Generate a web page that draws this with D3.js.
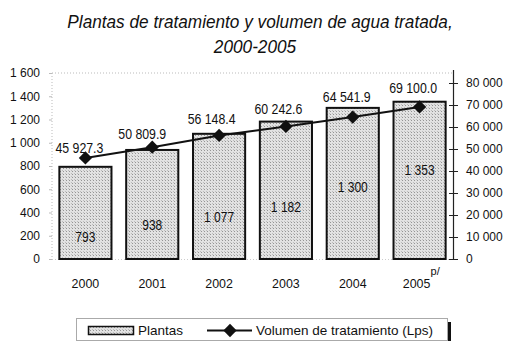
<!DOCTYPE html>
<html>
<head>
<meta charset="utf-8">
<script src="https://cdn.jsdelivr.net/npm/d3@7"></script>
<style>
  html, body { margin: 0; padding: 0; background: #fff; }
  svg { display: block; font-family: "Liberation Sans", Arial, sans-serif; }
</style>
</head>
<body>
<svg id="chart" width="506" height="341"></svg>
<script>
// Treatment plants (bars, left axis) and treated volume in Lps (line, right axis)
const years = ["2000", "2001", "2002", "2003", "2004", "2005"];
const plantas = [793, 938, 1077, 1182, 1300, 1353];
const volumen = [45927.3, 50809.9, 56148.4, 60242.6, 64541.9, 69100.0];
const leftTicks = [0, 200, 400, 600, 800, 1000, 1200, 1400, 1600];
const rightTicks = [0, 10000, 20000, 30000, 40000, 50000, 60000, 70000, 80000];
// Where each bar's count label sits, in left-axis units
const barLabelAt = [189, 292, 361, 447, 619, 766];
// Hand-placed nudges (px) of the volume labels from their markers
const volLabelDx = [-6, -10, -7.5, -7.5, -6, -6.5];
const volLabelDy = [-5, -8, -11, -12.5, -15, -14];

const svg = d3.select("#chart");
const plot = { left: 52, right: 453, top: 73, bottom: 259 };

const fmtInt = n => d3.format(",")(n).replace(/,/g, " ");
const fmtDec = n => d3.format(",.1f")(n).replace(/,/g, " ");

const x = d3.scaleBand().domain(years).range([plot.left, plot.right]).paddingInner(0.22).paddingOuter(0.11);
const yL = d3.scaleLinear().domain([0, 1600]).range([plot.bottom, plot.top]);
const yR = d3.scaleLinear().domain([0, 80000]).range([plot.bottom, 83]);
const cx = (d, i) => x(years[i]) + x.bandwidth() / 2;

// Stippled bar fill
const defs = svg.append("defs");
const pat = defs.append("pattern").attr("id", "stipple")
  .attr("patternUnits", "userSpaceOnUse").attr("width", 3).attr("height", 3);
pat.append("rect").attr("width", 3).attr("height", 3).attr("fill", "#e2e2e2");
pat.append("rect").attr("x", 0).attr("y", 0).attr("width", 1).attr("height", 1).attr("fill", "#959595");
pat.append("rect").attr("x", 2).attr("y", 2).attr("width", 1).attr("height", 1).attr("fill", "#bdbdbd");

// Title (slightly condensed)
const titleLines = [
  { text: "Plantas de tratamiento y volumen de agua tratada,", x: 260, y: 28 },
  { text: "2000-2005", x: 255, y: 53 }
];
svg.append("g").selectAll("text").data(titleLines).join("text")
  .attr("transform", d => `translate(${d.x},${d.y}) scale(0.93,1)`)
  .attr("text-anchor", "middle").attr("font-style", "italic")
  .attr("font-size", 18.5).attr("fill", "#111")
  .text(d => d.text);

// Faint dotted plot frame (top, left, bottom)
const frame = svg.append("g").attr("stroke", "#bbb").attr("stroke-width", 1).attr("stroke-dasharray", "1,2");
frame.append("line").attr("x1", plot.left).attr("x2", plot.right).attr("y1", plot.top).attr("y2", plot.top);
frame.append("line").attr("x1", plot.left).attr("x2", plot.left).attr("y1", plot.top).attr("y2", plot.bottom);
frame.append("line").attr("x1", plot.left).attr("x2", plot.right).attr("y1", plot.bottom + 0.5).attr("y2", plot.bottom + 0.5)
  .attr("stroke", "#ccc");

// Left axis
const gL = svg.append("g").attr("transform", `translate(${plot.left},0)`)
  .call(d3.axisLeft(yL).tickValues(leftTicks).tickFormat(fmtInt).tickSize(3).tickPadding(9));
gL.select(".domain").remove();
gL.selectAll(".tick line").attr("stroke", "#bbb");
gL.selectAll(".tick text").attr("font-size", 12).attr("fill", "#111")
  .attr("font-family", "Liberation Sans, Arial, sans-serif");

// Right axis
const gR = svg.append("g").attr("transform", `translate(${plot.right},0)`)
  .call(d3.axisRight(yR).tickValues(rightTicks).tickFormat(fmtInt).tickSizeOuter(0).tickSize(5).tickPadding(8));
gR.select(".domain").attr("stroke", "#222").attr("stroke-width", 1.2)
  .attr("d", `M0.5,${plot.top - 3}V${plot.bottom}`);
gR.selectAll(".tick line").attr("x1", -4).attr("x2", 5).attr("stroke", "#222");
gR.selectAll(".tick text").attr("font-size", 12).attr("fill", "#111")
  .attr("font-family", "Liberation Sans, Arial, sans-serif");

// Bars
svg.append("g").selectAll("rect").data(plantas).join("rect")
  .attr("x", (d, i) => x(years[i]))
  .attr("y", d => yL(d))
  .attr("width", x.bandwidth())
  .attr("height", d => plot.bottom - yL(d))
  .attr("fill", "url(#stipple)")
  .attr("stroke", "#111").attr("stroke-width", 2);

// Bar value labels (narrow)
svg.append("g").selectAll("text").data(plantas).join("text")
  .attr("transform", (d, i) => `translate(${cx(d, i)},${yL(barLabelAt[i]) + 5}) scale(0.86,1)`)
  .attr("text-anchor", "middle").attr("font-size", 14).attr("fill", "#111")
  .text(d => fmtInt(d));

// Volume line with diamond markers
svg.append("path").datum(volumen)
  .attr("d", d3.line().x(cx).y(d => yR(d)))
  .attr("fill", "none").attr("stroke", "#111").attr("stroke-width", 2);
const diamond = d3.symbol().type(d3.symbolSquare).size(88);
svg.append("g").selectAll("path").data(volumen).join("path")
  .attr("d", diamond)
  .attr("transform", (d, i) => `translate(${cx(d, i)},${yR(d)}) rotate(45)`)
  .attr("fill", "#111");
svg.append("g").selectAll("text").data(volumen).join("text")
  .attr("transform", (d, i) => `translate(${cx(d, i) + volLabelDx[i]},${yR(d) + volLabelDy[i]}) scale(0.85,1)`)
  .attr("text-anchor", "middle").attr("font-size", 14.5).attr("fill", "#111")
  .text(d => fmtDec(d));

// Category labels
svg.append("g").selectAll("text").data(years).join("text")
  .attr("transform", d => `translate(${x(d) + x.bandwidth() / 2 - (d === "2005" ? 3 : 0)},288) scale(0.92,1)`)
  .attr("text-anchor", "middle").attr("font-size", 13.5).attr("fill", "#111")
  .text(d => d);
svg.append("text").attr("x", x("2005") + x.bandwidth() / 2 + 11).attr("y", 274.5)
  .attr("font-size", 11).attr("fill", "#111").text("p/");

// Legend
const lg = svg.append("g");
lg.append("rect").attr("x", 448).attr("y", 322).attr("width", 3).attr("height", 19).attr("fill", "#111");
lg.append("rect").attr("x", 76.5).attr("y", 318.5).attr("width", 371).attr("height", 22)
  .attr("fill", "#fff").attr("stroke", "#aaa").attr("stroke-width", 1);
lg.append("rect").attr("x", 88.5).attr("y", 326.5).attr("width", 45).attr("height", 8)
  .attr("fill", "url(#stipple)").attr("stroke", "#111").attr("stroke-width", 1.5);
lg.append("text").attr("x", 138).attr("y", 335).attr("font-size", 13.5).attr("fill", "#111").text("Plantas");
lg.append("line").attr("x1", 207).attr("x2", 252).attr("y1", 330.5).attr("y2", 330.5)
  .attr("stroke", "#111").attr("stroke-width", 2);
lg.append("path").attr("d", diamond).attr("transform", "translate(230,330.5) rotate(45)").attr("fill", "#111");
lg.append("text").attr("x", 256).attr("y", 335).attr("font-size", 13.5).attr("fill", "#111")
  .text("Volumen de tratamiento (Lps)");
</script>
</body>
</html>
